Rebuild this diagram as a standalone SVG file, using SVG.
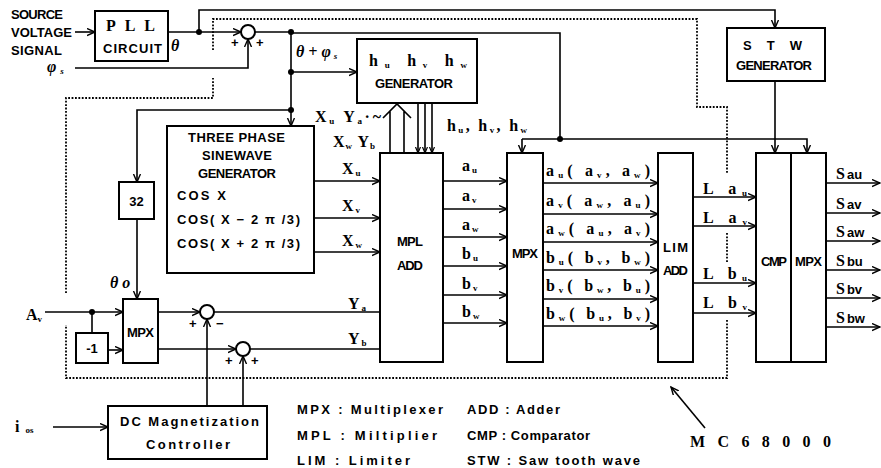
<svg xmlns="http://www.w3.org/2000/svg" width="881" height="468" viewBox="0 0 881 468">
<style>
.ln{stroke:#000;stroke-width:1.6;fill:none}
.bx{stroke:#000;stroke-width:2;fill:#fff}
.dt{stroke:#000;stroke-width:1.8;stroke-dasharray:1.8 1.6;fill:none}
.lb{font-family:"Liberation Sans",Arial,sans-serif;font-weight:bold;font-size:13px;fill:#000}
.m{font-family:"Liberation Serif","Times New Roman",serif;font-weight:bold;font-size:16px;fill:#000}
.s{font-size:9px}
.dot{fill:#000}
</style>
<defs>
<marker id="a" markerUnits="userSpaceOnUse" markerWidth="10" markerHeight="10" refX="8" refY="4" orient="auto"><path d="M0,0.5 L8,4 L0,7.5" fill="none" stroke="#000" stroke-width="1.4"/></marker>
<marker id="b" markerUnits="userSpaceOnUse" markerWidth="8" markerHeight="8" refX="6" refY="3" orient="auto"><path d="M0,0.5 L6,3 L0,5.5" fill="none" stroke="#000" stroke-width="1.2"/></marker>
</defs>
<rect width="881" height="468" fill="#fff"/>

<g id="connectors">
<path class="ln" d="M75,32 H95" marker-end="url(#a)"/>
<path class="ln" d="M168,32 H241" marker-end="url(#a)"/>
<path class="ln" d="M199,32 V10 H775 V28" marker-end="url(#a)"/>
<path class="ln" d="M75,68 H248 V39" marker-end="url(#a)"/>
<path class="ln" d="M255,32 H291"/>
<path class="ln" d="M291,33 H560 V139"/>
<path class="ln" d="M291,32 V126" marker-end="url(#a)"/>
<path class="ln" d="M291,72 H357" marker-end="url(#a)"/>
<path class="ln" d="M291,110 H137 V182" marker-end="url(#a)"/>
<path class="ln" d="M137,219 V299" marker-end="url(#a)"/>
<path class="ln" d="M45,312 H123" marker-end="url(#a)"/>
<path class="ln" d="M92,312 V333"/>
<path class="ln" d="M108,350 H123" marker-end="url(#a)"/>
<path class="ln" d="M158,312 H200" marker-end="url(#a)"/>
<path class="ln" d="M214,312 H380"/>
<path class="ln" d="M158,349 H236" marker-end="url(#a)"/>
<path class="ln" d="M250,349 H380"/>
<path class="ln" d="M207,406 V319" marker-end="url(#a)"/>
<path class="ln" d="M243,406 V356" marker-end="url(#a)"/>
<path class="ln" d="M53,427 H108" marker-end="url(#a)"/>
<path class="ln" d="M314,181 H380" marker-end="url(#a)"/>
<path class="ln" d="M314,218 H380" marker-end="url(#a)"/>
<path class="ln" d="M314,252 H380" marker-end="url(#a)"/>
<path class="ln" d="M390,153 V111 M404,153 V111 M383,118 L397,104 L411,118"/>
<path class="ln" d="M418,103 V153" marker-end="url(#b)"/>
<path class="ln" d="M425,103 V153" marker-end="url(#b)"/>
<path class="ln" d="M432,103 V153" marker-end="url(#b)"/>
<path class="ln" d="M443,181 H507" marker-end="url(#a)"/>
<path class="ln" d="M443,209 H507" marker-end="url(#a)"/>
<path class="ln" d="M443,237 H507" marker-end="url(#a)"/>
<path class="ln" d="M443,266 H507" marker-end="url(#a)"/>
<path class="ln" d="M443,295 H507" marker-end="url(#a)"/>
<path class="ln" d="M443,323 H507" marker-end="url(#a)"/>
<path class="ln" d="M543,183 H658" marker-end="url(#a)"/>
<path class="ln" d="M543,214 H658" marker-end="url(#a)"/>
<path class="ln" d="M543,242 H658" marker-end="url(#a)"/>
<path class="ln" d="M543,270 H658" marker-end="url(#a)"/>
<path class="ln" d="M543,299 H658" marker-end="url(#a)"/>
<path class="ln" d="M543,326 H658" marker-end="url(#a)"/>
<path class="ln" d="M693,197 H756" marker-end="url(#a)"/>
<path class="ln" d="M693,226 H756" marker-end="url(#a)"/>
<path class="ln" d="M693,283 H756" marker-end="url(#a)"/>
<path class="ln" d="M693,313 H756" marker-end="url(#a)"/>
<path class="ln" d="M522,139 H807 V153" marker-end="url(#a)"/>
<path class="ln" d="M522,139 V153" marker-end="url(#a)"/>
<path class="ln" d="M775,81 V153" marker-end="url(#a)"/>
<path class="ln" d="M826,183 H880" marker-end="url(#a)"/>
<path class="ln" d="M826,213 H880" marker-end="url(#a)"/>
<path class="ln" d="M826,241 H880" marker-end="url(#a)"/>
<path class="ln" d="M826,270 H880" marker-end="url(#a)"/>
<path class="ln" d="M826,298 H880" marker-end="url(#a)"/>
<path class="ln" d="M826,327 H880" marker-end="url(#a)"/>
<path class="ln" d="M705,428 L671,387" marker-end="url(#a)"/>
<circle class="dot" cx="199" cy="32" r="3"/>
<circle class="dot" cx="291" cy="32" r="3"/>
<circle class="dot" cx="291" cy="72" r="3"/>
<circle class="dot" cx="291" cy="110" r="3"/>
<circle class="dot" cx="92" cy="312" r="3"/>
<circle class="dot" cx="560" cy="139" r="3"/>
<path class="dt" d="M66,293 V98 H213 V78"/>
<path class="dt" d="M213,50 V19 H697 V107 H727 V173"/>
<path class="dt" d="M727,233 V262"/>
<path class="dt" d="M727,320 V378 H66 V325"/>
</g>

<g id="source">
<text class="lb" x="11" y="19" textLength="52" lengthAdjust="spacing">SOURCE</text>
<text class="lb" x="11" y="37" textLength="61" lengthAdjust="spacing">VOLTAGE</text>
<text class="lb" x="11" y="55" textLength="51" lengthAdjust="spacing">SIGNAL</text>
<text class="m" x="47" y="72" font-style="italic">φ<tspan class="s" dx="4" dy="2">s</tspan></text>
</g>

<g id="pll">
<rect class="bx" x="95" y="11" width="73" height="50"/>
<text class="m" x="106" y="31" textLength="49" lengthAdjust="spacing">PLL</text>
<text class="lb" x="103" y="53" textLength="59" lengthAdjust="spacing">CIRCUIT</text>
<text class="m" x="171" y="51" font-style="italic" font-size="14">θ</text>
</g>

<g id="sum1">
<circle class="bx" cx="248" cy="32" r="7"/>
<text class="lb" x="231" y="47">+</text>
<text class="lb" x="256" y="47">+</text>
<text class="m" x="296" y="57" font-style="italic" font-size="14">θ + φ<tspan class="s" dx="3" dy="2">s</tspan></text>
</g>

<g id="hgen">
<rect class="bx" x="357" y="39" width="120" height="64"/>
<text class="m" x="369" y="66" textLength="98" lengthAdjust="spacing">h<tspan class="s" dy="2">u</tspan><tspan dy="-2"> h</tspan><tspan class="s" dy="2">v</tspan><tspan dy="-2"> h</tspan><tspan class="s" dy="2">w</tspan></text>
<text class="lb" x="375" y="88" textLength="78" lengthAdjust="spacing">GENERATOR</text>
</g>

<g id="stw">
<rect class="bx" x="727" y="28" width="98" height="53"/>
<text class="lb" x="743" y="50" textLength="59" lengthAdjust="spacing">S T W</text>
<text class="lb" x="736" y="70" textLength="76" lengthAdjust="spacing">GENERATOR</text>
</g>

<g id="threephase">
<rect class="bx" x="167" y="126" width="147" height="147"/>
<text class="lb" x="188" y="142" textLength="97" lengthAdjust="spacing">THREE PHASE</text>
<text class="lb" x="202" y="160" textLength="70" lengthAdjust="spacing">SINEWAVE</text>
<text class="lb" x="198" y="178" textLength="78" lengthAdjust="spacing">GENERATOR</text>
<text class="lb" x="177" y="200" font-weight="normal" font-size="14" textLength="49" lengthAdjust="spacing">COS  X</text>
<text class="lb" x="177" y="224" font-weight="normal" font-size="14" textLength="123" lengthAdjust="spacing">COS( X − 2 π /3)</text>
<text class="lb" x="177" y="248" font-weight="normal" font-size="14" textLength="123" lengthAdjust="spacing">COS( X + 2 π /3)</text>
</g>

<g id="box32">
<rect class="bx" x="119" y="182" width="35" height="37"/>
<text class="lb" x="136.5" y="206" text-anchor="middle" font-size="14" font-weight="normal">32</text>
<text class="m" x="110" y="288" font-style="italic" font-size="14">θ o</text>
</g>

<g id="mpl">
<rect class="bx" x="380" y="153" width="63" height="209"/>
<text class="lb" x="397" y="246" textLength="26" lengthAdjust="spacing">MPL</text>
<text class="lb" x="397" y="270" textLength="26" lengthAdjust="spacing">ADD</text>
<text class="m" x="315" y="122" textLength="66" lengthAdjust="spacing">X<tspan class="s" dy="2">u</tspan><tspan dy="-2"> Y</tspan><tspan class="s" dy="2">a</tspan><tspan dy="-2">·~</tspan></text>
<text class="m" x="333" y="147" textLength="42" lengthAdjust="spacing">X<tspan class="s" dy="2">w</tspan><tspan dy="-2"> Y</tspan><tspan class="s" dy="2">b</tspan></text>
<text class="m" x="342" y="174">X<tspan class="s" dx="2" dy="2">u</tspan></text>
<text class="m" x="342" y="211">X<tspan class="s" dx="2" dy="2">v</tspan></text>
<text class="m" x="342" y="246">X<tspan class="s" dx="2" dy="2">w</tspan></text>
<text class="m" x="348" y="309">Y<tspan class="s" dx="2" dy="2">a</tspan></text>
<text class="m" x="348" y="344">Y<tspan class="s" dx="2" dy="2">b</tspan></text>
<text class="m" x="447" y="131" textLength="80" lengthAdjust="spacing">h<tspan class="s" dy="2">u</tspan><tspan dy="-2">, h</tspan><tspan class="s" dy="2">v</tspan><tspan dy="-2">, h</tspan><tspan class="s" dy="2">w</tspan></text>
<text class="m" x="462" y="171">a<tspan class="s" dx="2" dy="2">u</tspan></text>
<text class="m" x="462" y="201">a<tspan class="s" dx="2" dy="2">v</tspan></text>
<text class="m" x="462" y="230">a<tspan class="s" dx="2" dy="2">w</tspan></text>
<text class="m" x="462" y="259">b<tspan class="s" dx="2" dy="2">u</tspan></text>
<text class="m" x="462" y="289">b<tspan class="s" dx="2" dy="2">v</tspan></text>
<text class="m" x="462" y="317">b<tspan class="s" dx="2" dy="2">w</tspan></text>
</g>

<g id="mpx1">
<rect class="bx" x="507" y="153" width="36" height="209"/>
<text class="lb" x="512" y="258" textLength="26" lengthAdjust="spacing">MPX</text>
<text class="m" x="546" y="176" textLength="104" lengthAdjust="spacing">a<tspan class="s" dy="2">u</tspan><tspan dy="-2">( a</tspan><tspan class="s" dy="2">v</tspan><tspan dy="-2">, a</tspan><tspan class="s" dy="2">w</tspan><tspan dy="-2">)</tspan></text>
<text class="m" x="546" y="206" textLength="104" lengthAdjust="spacing">a<tspan class="s" dy="2">v</tspan><tspan dy="-2">( a</tspan><tspan class="s" dy="2">w</tspan><tspan dy="-2">, a</tspan><tspan class="s" dy="2">u</tspan><tspan dy="-2">)</tspan></text>
<text class="m" x="546" y="234" textLength="104" lengthAdjust="spacing">a<tspan class="s" dy="2">w</tspan><tspan dy="-2">( a</tspan><tspan class="s" dy="2">u</tspan><tspan dy="-2">, a</tspan><tspan class="s" dy="2">v</tspan><tspan dy="-2">)</tspan></text>
<text class="m" x="546" y="263" textLength="104" lengthAdjust="spacing">b<tspan class="s" dy="2">u</tspan><tspan dy="-2">( b</tspan><tspan class="s" dy="2">v</tspan><tspan dy="-2">, b</tspan><tspan class="s" dy="2">w</tspan><tspan dy="-2">)</tspan></text>
<text class="m" x="546" y="291" textLength="104" lengthAdjust="spacing">b<tspan class="s" dy="2">v</tspan><tspan dy="-2">( b</tspan><tspan class="s" dy="2">w</tspan><tspan dy="-2">, b</tspan><tspan class="s" dy="2">u</tspan><tspan dy="-2">)</tspan></text>
<text class="m" x="546" y="319" textLength="104" lengthAdjust="spacing">b<tspan class="s" dy="2">w</tspan><tspan dy="-2">( b</tspan><tspan class="s" dy="2">u</tspan><tspan dy="-2">, b</tspan><tspan class="s" dy="2">v</tspan><tspan dy="-2">)</tspan></text>
</g>

<g id="lim">
<rect class="bx" x="658" y="153" width="35" height="209"/>
<text class="lb" x="663" y="252" textLength="25" lengthAdjust="spacing">LIM</text>
<text class="lb" x="663" y="275" textLength="25" lengthAdjust="spacing">ADD</text>
<text class="m" x="703" y="194" textLength="44" lengthAdjust="spacing">L a<tspan class="s" dy="2">u</tspan></text>
<text class="m" x="703" y="223" textLength="44" lengthAdjust="spacing">L a<tspan class="s" dy="2">v</tspan></text>
<text class="m" x="703" y="279" textLength="44" lengthAdjust="spacing">L b<tspan class="s" dy="2">u</tspan></text>
<text class="m" x="703" y="308" textLength="44" lengthAdjust="spacing">L b<tspan class="s" dy="2">v</tspan></text>
</g>

<g id="cmp">
<rect class="bx" x="756" y="153" width="35" height="209"/>
<text class="lb" x="761" y="266" textLength="26" lengthAdjust="spacing">CMP</text>
</g>

<g id="mpx2">
<rect class="bx" x="791" y="153" width="35" height="209"/>
<text class="lb" x="795" y="266" textLength="27" lengthAdjust="spacing">MPX</text>
<text class="m" x="836" y="179">S<tspan class="lb" dx="2" font-size="12">au</tspan></text>
<text class="m" x="836" y="209">S<tspan class="lb" dx="2" font-size="12">av</tspan></text>
<text class="m" x="836" y="237">S<tspan class="lb" dx="2" font-size="12">aw</tspan></text>
<text class="m" x="836" y="266">S<tspan class="lb" dx="2" font-size="12">bu</tspan></text>
<text class="m" x="836" y="294">S<tspan class="lb" dx="2" font-size="12">bv</tspan></text>
<text class="m" x="836" y="323">S<tspan class="lb" dx="2" font-size="12">bw</tspan></text>
</g>

<g id="av">
<text class="m" x="26" y="320">A<tspan class="s" dy="2">v</tspan></text>
</g>

<g id="neg1">
<rect class="bx" x="76" y="333" width="32" height="30"/>
<text class="lb" x="92" y="353" text-anchor="middle">-1</text>
</g>

<g id="mpx0">
<rect class="bx" x="123" y="299" width="35" height="64"/>
<text class="lb" x="127" y="337" textLength="27" lengthAdjust="spacing">MPX</text>
</g>

<g id="sum2">
<circle class="bx" cx="207" cy="312" r="7"/>
<text class="lb" x="189" y="328">+</text>
<text class="lb" x="216" y="328">−</text>
</g>

<g id="sum3">
<circle class="bx" cx="243" cy="349" r="7"/>
<text class="lb" x="225" y="365">+</text>
<text class="lb" x="251" y="365">+</text>
</g>

<g id="dc">
<rect class="bx" x="108" y="406" width="159" height="53"/>
<text class="lb" x="120" y="426" textLength="139" lengthAdjust="spacing">DC Magnetization</text>
<text class="lb" x="146" y="449" textLength="84" lengthAdjust="spacing">Controller</text>
<text class="m" x="15" y="432">i<tspan class="s" dx="6" dy="1">os</tspan></text>
</g>

<g id="legend">
<text class="lb" x="297" y="414" textLength="146" lengthAdjust="spacing">MPX : Multiplexer</text>
<text class="lb" x="467" y="414" textLength="93" lengthAdjust="spacing">ADD : Adder</text>
<text class="lb" x="297" y="440" textLength="140" lengthAdjust="spacing">MPL : Miltiplier</text>
<text class="lb" x="467" y="440" textLength="123" lengthAdjust="spacing">CMP : Comparator</text>
<text class="lb" x="297" y="465" textLength="113" lengthAdjust="spacing">LIM : Limiter</text>
<text class="lb" x="467" y="465" textLength="173" lengthAdjust="spacing">STW : Saw tooth wave</text>
<text class="m" x="690" y="447" font-weight="normal" font-size="17" textLength="141" lengthAdjust="spacing">MC68000</text>
</g>
</svg>
